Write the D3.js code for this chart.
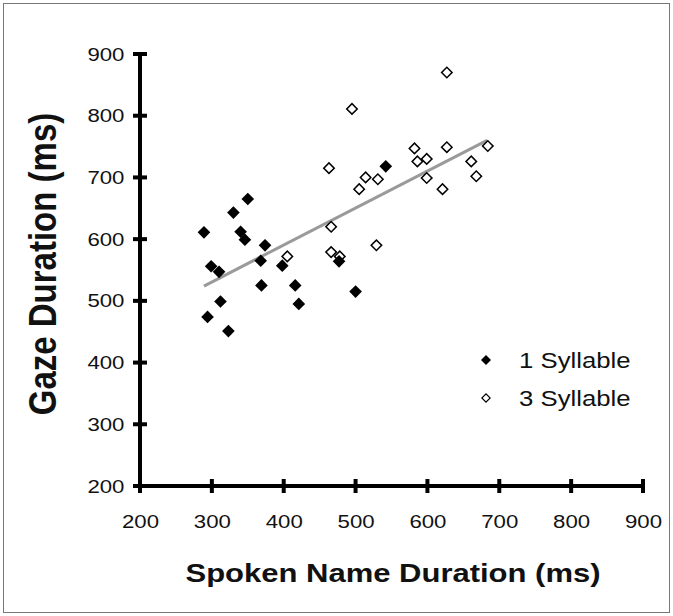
<!DOCTYPE html>
<html>
<head>
<meta charset="utf-8">
<script src="https://cdn.jsdelivr.net/npm/d3@7"></script>
<style>
  body { margin: 0; background: #fff; }
  text { font-family: "Liberation Sans", Arial, sans-serif; }
</style>
</head>
<body>
<div class="chart"></div>
<script>
// 1 syllable names: spoken duration / gaze duration (ms)
const oneSylX = [289, 330, 350, 340, 346, 374, 299, 310, 368, 398, 369, 416, 421, 312, 294, 323, 477, 500, 542];
const oneSylY = [611, 643, 665, 612, 599, 590, 556, 547, 565, 557, 525, 525, 495, 499, 474, 451, 564, 515, 718];

// 3 syllable names
const threeSylX = [495, 627, 463, 505, 514, 531, 466, 466, 478, 405, 529, 582, 586, 599, 599, 621, 627, 661, 668, 684];
const threeSylY = [811, 870, 715, 681, 700, 697, 620, 579, 572, 572, 590, 747, 726, 730, 699, 681, 749, 726, 702, 751];

// fitted line end points
const trendX = [289, 683];
const trendY = [524, 760];

const xTicks = [200, 300, 400, 500, 600, 700, 800, 900];
const yTicks = [200, 300, 400, 500, 600, 700, 800, 900];

const width = 673, height = 616;
// the original figure is a little wider than tall, text looks stretched
const stretch = 1.17;

const svg = d3.select('.chart')
    .append('svg')
        .attr('width', width)
        .attr('height', height);

// outer frame
svg.append('rect')
    .attr('x', 3.5)
    .attr('y', 3.5)
    .attr('width', width - 7)
    .attr('height', height - 7)
    .attr('fill', 'none')
    .attr('stroke', '#777')
    .attr('stroke-width', 1);

const x = d3.scaleLinear().domain([200, 900]).range([140, 643]);
const y = d3.scaleLinear().domain([200, 900]).range([486, 54]);

// axes (labels only, lines drawn below)
const xAxis = svg.append('g')
    .attr('transform', `translate(0,${y(200)})`)
    .call(d3.axisBottom(x).tickValues(xTicks).tickSize(0).tickPadding(29));
xAxis.select('.domain').remove();
xAxis.selectAll('text')
    .attr('font-size', 19)
    .attr('fill', '#111')
    .attr('transform', `scale(${stretch},1)`);

const yAxis = svg.append('g')
    .attr('transform', `translate(${x(200)},0)`)
    .call(d3.axisLeft(y).tickValues(yTicks).tickSize(0).tickPadding(13.3));
yAxis.select('.domain').remove();
yAxis.selectAll('text')
    .attr('font-size', 19)
    .attr('fill', '#111')
    .attr('transform', `scale(${stretch},1)`);

// thick axis lines with cross ticks
svg.append('line')
    .attr('x1', x(200) - 2).attr('x2', x(900) + 2)
    .attr('y1', y(200)).attr('y2', y(200))
    .attr('stroke', '#000').attr('stroke-width', 4);
svg.append('line')
    .attr('x1', x(200)).attr('x2', x(200))
    .attr('y1', y(900) - 2).attr('y2', y(200) + 2)
    .attr('stroke', '#000').attr('stroke-width', 4);

svg.selectAll('.xtick')
    .data(xTicks)
    .enter()
        .append('line')
        .attr('x1', d => x(d)).attr('x2', d => x(d))
        .attr('y1', y(200) - 7).attr('y2', y(200) + 7)
        .attr('stroke', '#000').attr('stroke-width', 4);

svg.selectAll('.ytick')
    .data(yTicks)
    .enter()
        .append('line')
        .attr('x1', x(200) - 7).attr('x2', x(200) + 7)
        .attr('y1', d => y(d)).attr('y2', d => y(d))
        .attr('stroke', '#000').attr('stroke-width', 4);

// trend line
svg.append('line')
    .attr('x1', x(trendX[0])).attr('y1', y(trendY[0]))
    .attr('x2', x(trendX[1])).attr('y2', y(trendY[1]))
    .attr('stroke', '#9a9a9a')
    .attr('stroke-width', 3);

const diamond = d3.symbol().type(d3.symbolSquare);

const oneSyl = oneSylX.map((v, i) => ({ x: v, y: oneSylY[i] }));
const threeSyl = threeSylX.map((v, i) => ({ x: v, y: threeSylY[i] }));

svg.selectAll('.open')
    .data(threeSyl)
    .enter()
        .append('path')
        .attr('d', diamond.size(55))
        .attr('transform', d => `translate(${x(d.x)},${y(d.y)}) rotate(45)`)
        .attr('fill', '#fff')
        .attr('stroke', '#000')
        .attr('stroke-width', 1.5);

svg.selectAll('.filled')
    .data(oneSyl)
    .enter()
        .append('path')
        .attr('d', diamond.size(80))
        .attr('transform', d => `translate(${x(d.x)},${y(d.y)}) rotate(45)`)
        .attr('fill', '#000');

// legend
const legend = [
    { label: '1 Syllable', filled: true, yPos: 360 },
    { label: '3 Syllable', filled: false, yPos: 398 }
];

const lg = svg.selectAll('.legend')
    .data(legend)
    .enter()
        .append('g')
        .attr('transform', d => `translate(486,${d.yPos})`);

lg.append('path')
    .attr('d', d => diamond.size(d.filled ? 50 : 34)())
    .attr('transform', 'rotate(45)')
    .attr('fill', d => d.filled ? '#000' : '#fff')
    .attr('stroke', d => d.filled ? 'none' : '#000')
    .attr('stroke-width', 1.2);

lg.append('text')
    .attr('transform', `translate(33,0) scale(${stretch},1)`)
    .attr('dy', '0.36em')
    .attr('font-size', 22)
    .attr('fill', '#111')
    .text(d => d.label);

// titles
svg.append('text')
    .attr('transform', `translate(393,582) scale(${stretch},1)`)
    .attr('text-anchor', 'middle')
    .attr('font-size', 26.5)
    .attr('font-weight', 'bold')
    .attr('fill', '#111')
    .text('Spoken Name Duration (ms)');

svg.append('text')
    .attr('transform', `translate(56,264) scale(${stretch},1) rotate(-90)`)
    .attr('text-anchor', 'middle')
    .attr('font-size', 33)
    .attr('font-weight', 'bold')
    .attr('fill', '#111')
    .text('Gaze Duration (ms)');
</script>
</body>
</html>
